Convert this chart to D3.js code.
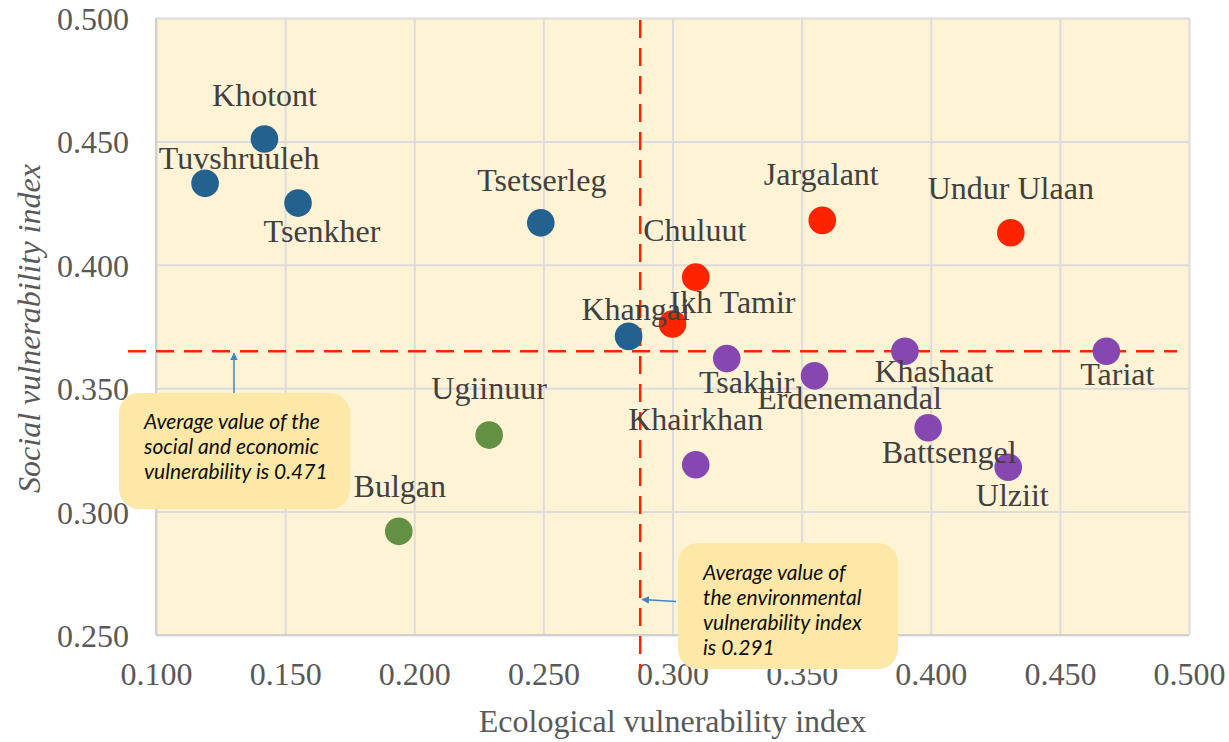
<!DOCTYPE html>
<html>
<head>
<meta charset="utf-8">
<script src="https://cdn.jsdelivr.net/npm/d3@7"></script>
<style>
  html, body { margin: 0; padding: 0; background: #ffffff; }
  svg { display: block; }
</style>
</head>
<body>
<svg id="chart" width="1229" height="742"></svg>
<script>
// Soum-level vulnerability indices
const soums = ["Khotont", "Tuvshruuleh", "Tsenkher", "Tsetserleg", "Khangai",
  "Chuluut", "Ikh Tamir", "Jargalant", "Undur Ulaan",
  "Tsakhir", "Erdenemandal", "Khashaat", "Tariat", "Battsengel", "Ulziit", "Khairkhan",
  "Ugiinuur", "Bulgan"];
const ecological = [0.142, 0.119, 0.155, 0.249, 0.283,
  0.309, 0.300, 0.358, 0.431,
  0.321, 0.355, 0.390, 0.468, 0.399, 0.430, 0.309,
  0.229, 0.194];
const social = [0.451, 0.433, 0.425, 0.417, 0.371,
  0.395, 0.376, 0.418, 0.413,
  0.362, 0.355, 0.365, 0.365, 0.334, 0.318, 0.319,
  0.331, 0.292];
const cluster = ["A", "A", "A", "A", "A",
  "B", "B", "B", "B",
  "C", "C", "C", "C", "C", "C", "C",
  "D", "D"];

const xTicks = [0.100, 0.150, 0.200, 0.250, 0.300, 0.350, 0.400, 0.450, 0.500];
const yTicks = [0.250, 0.300, 0.350, 0.400, 0.450, 0.500];

// Reference averages shown as dashed lines
const meanEcological = 0.2875;
const meanSocial = 0.365;

const noteSocial = ["Average value of the", "social and economic", "vulnerability is 0.471"];
const noteEcological = ["Average value of", "the environmental", "vulnerability index", "is 0.291"];

// ---- layout & style ----
const clusterColor = { A: "#23618e", B: "#ff2400", C: "#8648b0", D: "#639141" };
const labelOffset = {
  "Khotont": [0, -33], "Tuvshruuleh": [34, -14], "Tsenkher": [24, 39], "Tsetserleg": [1, -32],
  "Khangai": [7, -16], "Chuluut": [-1, -36], "Ikh Tamir": [60, -11], "Jargalant": [-1, -35],
  "Undur Ulaan": [0, -34], "Tsakhir": [20, 34], "Erdenemandal": [35, 33], "Khashaat": [29, 31],
  "Tariat": [11, 34], "Battsengel": [21, 35], "Ulziit": [4, 39], "Khairkhan": [0, -35],
  "Ugiinuur": [0, -36], "Bulgan": [1, -34]
};

const svg = d3.select("#chart");
const plotL = 156, plotT = 18, plotR = 1189, plotB = 635;

const x = d3.scaleLinear().domain([0.1, 0.5]).range([plotL, plotR]);
const y = d3.scaleLinear().domain([0.25, 0.5]).range([plotB, plotT]);

const serif = "'Liberation Serif', 'Times New Roman', serif";
const sans = "Lato, 'Open Sans', sans-serif";
const fs = "32px";

// plot background
svg.append("rect")
  .attr("x", plotL).attr("y", plotT)
  .attr("width", plotR - plotL).attr("height", plotB - plotT)
  .attr("fill", "#fff3d6");

// gridlines via axes
const gx = svg.append("g")
  .attr("transform", `translate(0,${plotB})`)
  .call(d3.axisBottom(x).tickValues(xTicks).tickSize(-(plotB - plotT)).tickFormat(d3.format(".3f")));
const gy = svg.append("g")
  .attr("transform", `translate(${plotL},0)`)
  .call(d3.axisLeft(y).tickValues(yTicks).tickSize(-(plotR - plotL)).tickFormat(d3.format(".3f")));

[gx, gy].forEach(g => {
  g.select(".domain").remove();
  g.selectAll(".tick line").attr("stroke", "#dcdcdc").attr("stroke-width", 2);
  g.selectAll(".tick text")
    .attr("fill", "#595959")
    .style("font-family", serif)
    .style("font-size", fs);
});
gx.selectAll(".tick text").attr("y", 50).attr("dy", 0);
gy.selectAll(".tick text").attr("x", -27).attr("dy", "0.36em");

// axis lines
svg.append("line").attr("x1", plotL).attr("x2", plotL).attr("y1", plotT).attr("y2", plotB)
  .attr("stroke", "#d0d0d0").attr("stroke-width", 2);
svg.append("line").attr("x1", plotL).attr("x2", plotR).attr("y1", plotB).attr("y2", plotB)
  .attr("stroke", "#d0d0d0").attr("stroke-width", 2);

// axis titles
svg.append("text")
  .attr("x", (plotL + plotR) / 2).attr("y", 732)
  .attr("text-anchor", "middle")
  .attr("fill", "#595959")
  .style("font-family", serif).style("font-size", fs)
  .text("Ecological vulnerability index");
svg.append("text")
  .attr("transform", `translate(40,${(plotT + plotB) / 2 + 2}) rotate(-90)`)
  .attr("text-anchor", "middle")
  .attr("fill", "#595959")
  .style("font-family", serif).style("font-size", fs).style("font-style", "italic")
  .text("Social vulnerability index");

// average lines
const dashColor = "#ff2400";
svg.append("line")
  .attr("x1", x(meanEcological)).attr("x2", x(meanEcological))
  .attr("y1", plotT + 2).attr("y2", plotB + 34)
  .attr("stroke", dashColor).attr("stroke-width", 2.5).attr("stroke-dasharray", "18,10");
svg.append("line")
  .attr("x1", plotL - 28).attr("x2", plotR - 12)
  .attr("y1", y(meanSocial)).attr("y2", y(meanSocial))
  .attr("stroke", dashColor).attr("stroke-width", 2.5).attr("stroke-dasharray", "18,10");

// points
const rows = soums.map((name, i) => ({ name, ex: ecological[i], so: social[i], c: cluster[i] }));

svg.append("g").selectAll("circle")
  .data(rows).join("circle")
  .attr("cx", d => x(d.ex)).attr("cy", d => y(d.so))
  .attr("r", 13.8)
  .attr("fill", d => clusterColor[d.c]);

svg.append("g").selectAll("text")
  .data(rows).join("text")
  .attr("x", d => x(d.ex) + labelOffset[d.name][0])
  .attr("y", d => y(d.so) + labelOffset[d.name][1])
  .attr("text-anchor", "middle")
  .attr("fill", "#404040")
  .style("font-family", serif).style("font-size", fs)
  .text(d => d.name);

// callouts
const defs = svg.append("defs");
defs.append("marker")
  .attr("id", "arrowhead")
  .attr("viewBox", "0 0 10 10").attr("refX", 9).attr("refY", 5)
  .attr("markerWidth", 5).attr("markerHeight", 5).attr("orient", "auto")
  .append("path").attr("d", "M0,0 L10,5 L0,10 Z").attr("fill", "#3b86c6");

function callout(bx, by, bw, bh, lines, tx, ty0, step) {
  svg.append("rect")
    .attr("x", bx).attr("y", by).attr("width", bw).attr("height", bh)
    .attr("rx", 20).attr("ry", 20)
    .attr("fill", "#fee8a7");
  const t = svg.append("text")
    .attr("fill", "#0d0d0d")
    .style("font-family", sans).style("font-size", "21px").style("font-style", "italic");
  lines.forEach((s, i) => {
    t.append("tspan").attr("x", tx).attr("y", ty0 + i * step).text(s);
  });
}

callout(119, 393, 231, 116, noteSocial, 144, 429, 25);
callout(678, 543, 220, 126, noteEcological, 703, 580, 25);

// arrows pointing at the average lines
svg.append("line")
  .attr("x1", 234).attr("y1", 393)
  .attr("x2", 234).attr("y2", y(meanSocial) + 2)
  .attr("stroke", "#3b86c6").attr("stroke-width", 1.5)
  .attr("marker-end", "url(#arrowhead)");
svg.append("line")
  .attr("x1", 676).attr("y1", 601.5)
  .attr("x2", x(meanEcological) + 2).attr("y2", 599.5)
  .attr("stroke", "#3b86c6").attr("stroke-width", 1.5)
  .attr("marker-end", "url(#arrowhead)");
</script>
</body>
</html>
